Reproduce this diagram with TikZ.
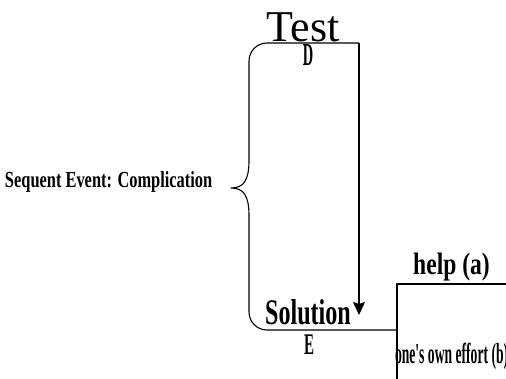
\documentclass[tikz,border=0pt]{standalone}
\usepackage{fontspec}
\setmainfont{Liberation Serif}
\usetikzlibrary{arrows.meta}
\tikzset{
  lbl/.style={inner sep=0pt, outer sep=0pt, anchor=base},
  lineframe/.style={line width=1.1pt, black, line join=round},
  arr/.style={line width=1.1pt, -{Stealth[width=12pt,length=13pt,inset=2pt]}}
}
\newcommand{\sq}[3]{\fontsize{#1}{#1}\selectfont\scalebox{#2}[1]{#3}}
\begin{document}
\begin{tikzpicture}[x=1pt,y=-1pt]
\useasboundingbox (0,0) rectangle (506,379);
% named coordinates
\coordinate (tr) at (359,43);
\coordinate (tl) at (249,43);
\coordinate (ua) at (249,160);
\coordinate (bend) at (231,188);
\coordinate (ub) at (249,216);
\coordinate (bl) at (249,330);
\coordinate (tip) at (359,315);
\coordinate (br) at (397,330);
\coordinate (vb) at (397,379);
\coordinate (vt) at (397,284);
\coordinate (re) at (506,284);
% brace / frame path
\draw[lineframe,rounded corners=18pt] (tr) -- (tl) -- (ua);
\draw[lineframe] (ua) .. controls (249,180) and (244,188) .. (bend)
  .. controls (244,188) and (249,196) .. (ub);
\draw[lineframe,rounded corners=18pt] (ub) -- (bl) -- (br);
\draw[lineframe] (vb) -- (vt) -- (re);
\draw[arr] (tr) -- (tip);
% labels
\node[lbl] (test) at (303,42) {\sq{44}{1}{Test}};
\node[lbl] (d) at (308,66) {\bfseries\sq{32}{0.45}{D}};
\node[lbl] (sol) at (308,324) {\bfseries\sq{36}{0.67}{Solution}};
\node[lbl] (e) at (309,355) {\bfseries\sq{30}{0.5}{E}};
\node[lbl] (help) at (451.5,275) {\bfseries\sq{31}{0.76}{help (a)}};
\node[lbl,anchor=base west] (own) at (395,363) {\bfseries\sq{29}{0.47}{one\textquotesingle s own effort (b)}};
\node[lbl,anchor=base west] (seq) at (5,188) {\bfseries\sq{23}{0.713}{Sequent Event: Complication}};
\end{tikzpicture}
\end{document}
